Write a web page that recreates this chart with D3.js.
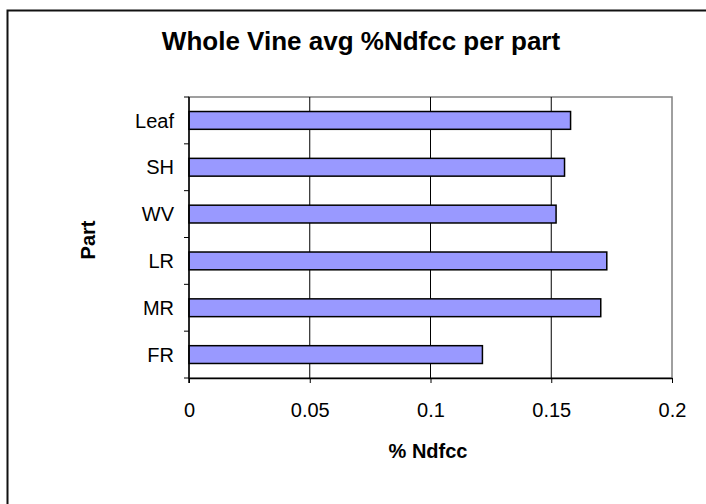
<!DOCTYPE html>
<html>
<head>
<meta charset="utf-8">
<script src="https://cdn.jsdelivr.net/npm/d3@7"></script>
<style>
  body { margin: 0; background: #fff; }
  text { font-family: "Liberation Sans", Arial, sans-serif; }
</style>
</head>
<body>
<div id="chart"></div>
<script>
// chart values
const parts = ["Leaf", "SH", "WV", "LR", "MR", "FR"];
const ndfcc = [0.158, 0.1555, 0.152, 0.173, 0.1705, 0.1215];
const xTicks = [0, 0.05, 0.1, 0.15, 0.2];

const W = 706, H = 504;
let margin = {top: 97, right: 34, bottom: 126, left: 189};
let width = W - margin.left - margin.right;
let height = H - margin.top - margin.bottom;

let svg = d3.select("#chart").append("svg")
    .attr("width", W)
    .attr("height", H);

// outer frame
svg.append("rect")
    .attr("x", 7.5).attr("y", 10.5)
    .attr("width", W + 10).attr("height", H + 10)
    .attr("fill", "none")
    .attr("stroke", "#111")
    .attr("stroke-width", 2);

const g = svg.append("g")
    .attr("transform", "translate(" + margin.left + "," + margin.top + ")");

let x = d3.scaleLinear().domain([0, 0.2]).range([0, width]);
let y = d3.scaleBand().domain(parts).range([0, height]).paddingInner(0.62).paddingOuter(0.31);

// plot area border (grey)
g.append("rect")
    .attr("x", 0).attr("y", 0)
    .attr("width", width).attr("height", height)
    .attr("fill", "none")
    .attr("stroke", "#808080")
    .attr("stroke-width", 1.5);

// vertical grid lines
g.append("g")
    .selectAll("line")
    .data(xTicks.slice(1, -1))
    .enter().append("line")
    .attr("x1", d => x(d)).attr("x2", d => x(d))
    .attr("y1", 0).attr("y2", height)
    .attr("stroke", "#000")
    .attr("stroke-width", 1);

// bars
g.append("g")
    .selectAll("rect")
    .data(parts)
    .enter().append("rect")
    .attr("x", 0)
    .attr("y", d => y(d))
    .attr("width", (d, i) => x(ndfcc[i]))
    .attr("height", y.bandwidth())
    .attr("fill", "#9999ff")
    .attr("stroke", "#000")
    .attr("stroke-width", 1.5);

// x axis
let xAxis = g.append("g")
    .attr("transform", "translate(0," + height + ")")
    .call(d3.axisBottom(x).tickValues(xTicks).tickFormat(d => String(d)).tickSize(5).tickPadding(20).tickSizeOuter(0));
xAxis.select(".domain").attr("stroke", "#000").attr("stroke-width", 1.5);
xAxis.selectAll(".tick line").attr("stroke", "#000");
xAxis.selectAll("text").attr("font-size", 20).attr("fill", "#000");

// y axis: ticks on band boundaries
g.append("line")
    .attr("x1", 0).attr("x2", 0).attr("y1", 0).attr("y2", height + 5)
    .attr("stroke", "#000").attr("stroke-width", 1.5);
let bounds = d3.range(parts.length + 1).map(i => i * height / parts.length);
g.append("g")
    .selectAll("line")
    .data(bounds)
    .enter().append("line")
    .attr("x1", -5).attr("x2", 0)
    .attr("y1", d => d).attr("y2", d => d)
    .attr("stroke", "#000");
g.append("g")
    .selectAll("text")
    .data(parts)
    .enter().append("text")
    .attr("x", -15)
    .attr("y", d => y(d) + y.bandwidth() / 2)
    .attr("dy", "0.36em")
    .attr("text-anchor", "end")
    .attr("font-size", 20)
    .text(d => d);

// title and axis titles
svg.append("text")
    .attr("x", 361).attr("y", 50)
    .attr("text-anchor", "middle")
    .attr("font-size", 26)
    .attr("font-weight", "bold")
    .text("Whole Vine avg %Ndfcc per part");

svg.append("text")
    .attr("x", 428).attr("y", 458)
    .attr("text-anchor", "middle")
    .attr("font-size", 20)
    .attr("font-weight", "bold")
    .text("% Ndfcc");

svg.append("text")
    .attr("transform", "translate(95,240)rotate(-90)")
    .attr("text-anchor", "middle")
    .attr("font-size", 20)
    .attr("font-weight", "bold")
    .text("Part");
</script>
</body>
</html>
